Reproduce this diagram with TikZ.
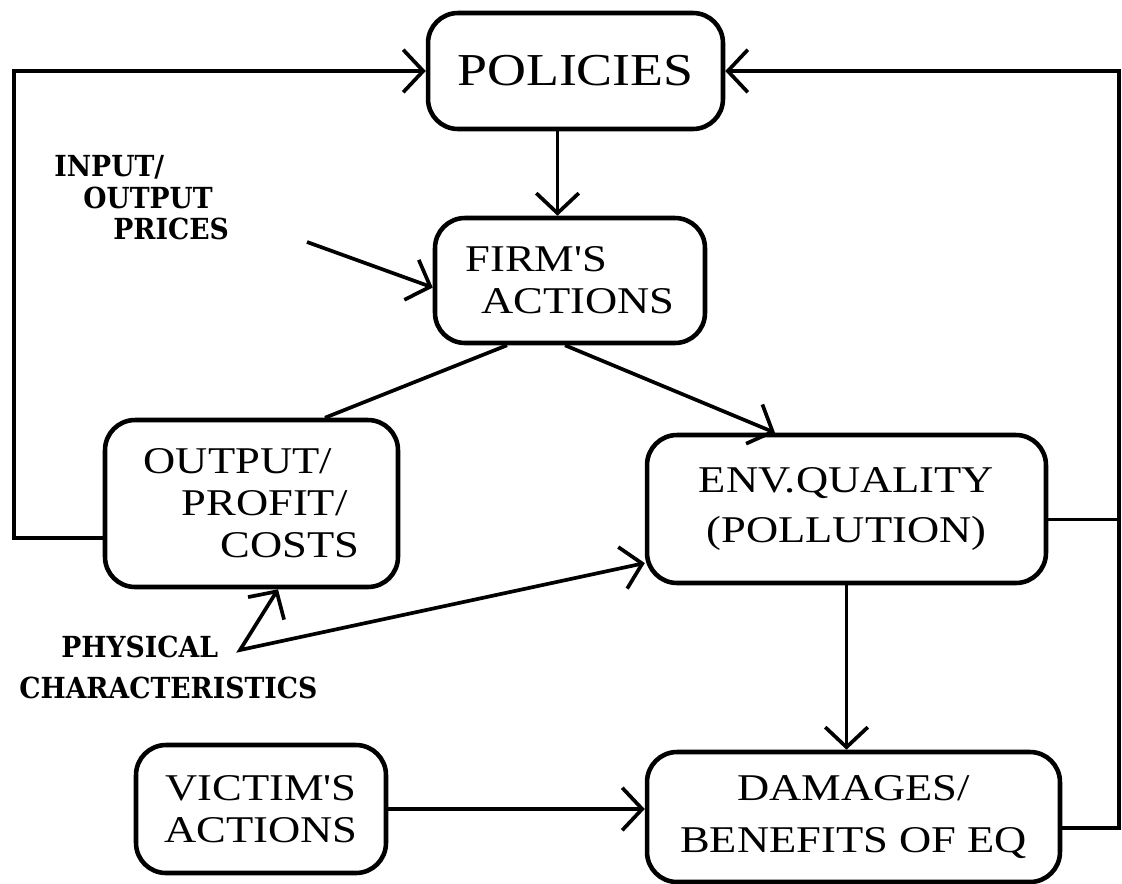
\documentclass[tikz,border=0pt]{standalone}
\usepackage{fontspec}
\usetikzlibrary{arrows.meta}
\newfontfamily\boxfont[FakeStretch=1.18]{Liberation Serif}
\newfontfamily\lblfont[FakeStretch=0.92]{DejaVu Serif}

\begin{document}
\begin{tikzpicture}[x=0.02cm, y=-0.02cm,
    >={Straight Barb[length=0.4cm,width=0.85cm]},
    box/.style={draw, rectangle, rounded corners=0.6cm, line width=2.6pt, inner sep=0pt},
    txt/.style={font=\boxfont\fontsize{21.5}{24}\selectfont},
    lbl/.style={font=\lblfont\bfseries\fontsize{16.5}{18}\selectfont, align=left, inner sep=0pt},
    link/.style={line width=2.1pt}]
    \useasboundingbox (0,0) rectangle (1122,883);

    \node (policies) [box, minimum width=5.9cm, minimum height=2.32cm, font=\boxfont\fontsize{26}{30}\selectfont] at (575.5,71) {POLICIES};
    \node (firm) [box, txt, align=left, minimum width=5.4cm, minimum height=2.5cm] at (570,280.5) {FIRM'S\\\hspace*{0.32cm}ACTIONS};
    \node (output) [box, txt, align=left, minimum width=5.86cm, minimum height=3.34cm] at (251.5,503.5) {OUTPUT/\\\hspace*{0.76cm}PROFIT/\\\hspace*{1.54cm}COSTS};
    \node (env) [box, align=center, minimum width=7.98cm, minimum height=2.96cm, font=\boxfont\fontsize{21.5}{29}\selectfont] at (846.5,509) {ENV.QUALITY\\(POLLUTION)};
    \node (damages) [box, align=center, minimum width=8.26cm, minimum height=2.6cm, font=\boxfont\fontsize{21.5}{30}\selectfont] at (853.5,817) {DAMAGES/\\BENEFITS OF EQ};
    \node (victim) [box, txt, align=center, minimum width=5cm, minimum height=2.56cm] at (261,809) {VICTIM'S\\ACTIONS};

    \node (prices) [lbl, anchor=north west] at (54,155) {INPUT/\\\hspace*{0.58cm}OUTPUT\\\hspace*{1.18cm}PRICES};
    \node (physical) [lbl, anchor=north west, font=\lblfont\bfseries\fontsize{16.5}{23}\selectfont] at (19,636) {\hspace*{0.84cm}PHYSICAL\\CHARACTERISTICS};

    \coordinate (pricesrc) at (307,242);
    \coordinate (physsrc) at (240,650);
    \coordinate (lft) at (14,0);
    \coordinate (rgt) at (1119,0);

    % feedback loops
    \draw [->, link] (output.193) -| (lft |- policies.west) -- (policies.west);
    \draw [link] (env.-3) -- (env.-3 -| rgt);
    \draw [->, link] (damages.-3) -| (rgt |- policies.east) -- (policies.east);

    \draw [->, link] ([xshift=-0.36cm]policies.south) -- ([xshift=-0.36cm]policies.south |- firm.north);
    \draw [->, link] (pricesrc) -- ([yshift=-0.14cm]firm.west);
    \draw [link] ([xshift=-1.26cm]firm.south) -- ([xshift=1.47cm]output.north);
    \draw [->, link] ([xshift=-0.1cm]firm.south) -- ([xshift=-1.43cm]env.north);
    \draw [->, link] (env) -- (env |- damages.north);
    \draw [->, link] (victim.east) -- (victim.east -| damages.west);
    \draw [<->, link] ([xshift=0.53cm]output.south) -- (physsrc) -- (env.195);
\end{tikzpicture}
\end{document}
